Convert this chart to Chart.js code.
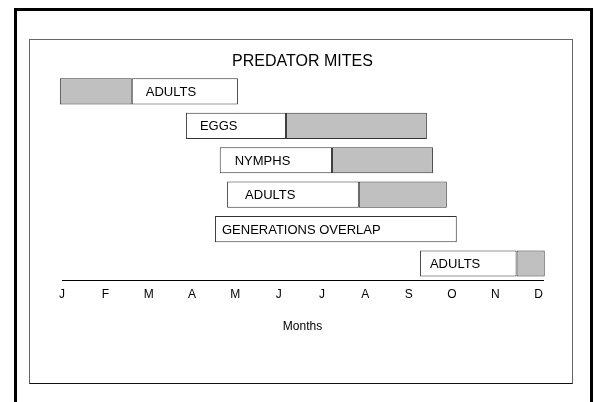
<!DOCTYPE html>
<html>
<head>
<meta charset="utf-8">
<script src="https://cdn.jsdelivr.net/npm/chart.js@4"></script>
<style>
  html, body { margin: 0; padding: 0; background: #fff; }
  body { width: 594px; height: 402px; position: relative; overflow: hidden; }
  #outer { position: absolute; left: 14px; top: 8px; width: 573px; height: 420px; border: 3px solid #000; box-sizing: content-box; }
  #inner { position: absolute; left: 29px; top: 39px; width: 542px; height: 343px; border: 1px solid #666; border-bottom-color: #111; }
  #wrap { position: absolute; left: 0; top: 0; width: 594px; height: 402px; }
</style>
</head>
<body>
<div id="outer"></div>
<div id="inner"></div>
<div id="wrap"><canvas id="c" width="594" height="402"></canvas></div>
<script>
// ---- data ----
const rows = ['Adults (spring)', 'Eggs', 'Nymphs', 'Adults', 'Generations overlap', 'Adults (winter)'];
const barLabels = ['ADULTS', 'EGGS', 'NYMPHS', 'ADULTS', 'GENERATIONS OVERLAP', 'ADULTS'];
// month units: 0 = J tick, 11 = D tick
const whiteSpans = [[1.61, 4.06], [2.86, 5.17], [3.64, 6.23], [3.81, 6.85], [3.53, 9.11], [8.26, 10.49]];
const graySpans  = [[-0.05, 1.61], [5.17, 8.42], [6.23, 8.56], [6.85, 8.88], null, [10.49, 11.14]];
const monthTicks = ['J', 'F', 'M', 'A', 'M', 'J', 'J', 'A', 'S', 'O', 'N', 'D'];
const labelPads = [14, 14, 15, 18, 7, 10];

const FONT = "'Liberation Sans', Arial, Helvetica, sans-serif";

const barTextPlugin = {
  id: 'barText',
  afterDatasetsDraw(chart) {
    const meta = chart.getDatasetMeta(0);
    const ctx = chart.ctx;
    ctx.save();
    ctx.font = '13px ' + FONT;
    ctx.fillStyle = '#000';
    ctx.textBaseline = 'middle';
    ctx.textAlign = 'left';
    meta.data.forEach((el, i) => {
      const left = Math.min(el.x, el.base);
      ctx.fillText(barLabels[i], left + labelPads[i], el.y + 1);
    });
    ctx.restore();
  }
};

new Chart(document.getElementById('c'), {
  type: 'bar',
  data: {
    labels: rows,
    datasets: [
      {
        label: 'stage',
        data: whiteSpans,
        backgroundColor: '#ffffff',
        borderColor: '#333333',
        borderWidth: 1,
        borderSkipped: false,
        grouped: false,
        clip: false,
        barPercentage: 0.76,
        categoryPercentage: 1
      },
      {
        label: 'overlap',
        data: graySpans,
        backgroundColor: '#c0c0c0',
        borderColor: '#333333',
        borderWidth: 1,
        borderSkipped: false,
        grouped: false,
        clip: false,
        barPercentage: 0.76,
        categoryPercentage: 1
      }
    ]
  },
  options: {
    indexAxis: 'y',
    responsive: false,
    animation: false,
    devicePixelRatio: 1,
    layout: { padding: { left: 62, right: 51, top: 0, bottom: 68.5 } },
    plugins: {
      legend: { display: false },
      tooltip: { enabled: false },
      title: {
        display: true,
        text: 'PREDATOR MITES',
        color: '#000',
        font: { family: FONT, size: 16, weight: 'normal' },
        padding: { top: 52, bottom: 3 }
      }
    },
    scales: {
      y: {
        type: 'category',
        display: false
      },
      x: {
        type: 'linear',
        min: 0,
        max: 11.1,
        grid: { display: false, drawTicks: false },
        border: { display: true, color: '#000', width: 1 },
        afterBuildTicks(axis) {
          axis.ticks = monthTicks.map((_, i) => ({ value: i }));
        },
        ticks: {
          color: '#000',
          padding: 7,
          autoSkip: false,
          maxRotation: 0,
          font: { family: FONT, size: 12 },
          callback: (v) => monthTicks[v]
        },
        title: {
          display: true,
          text: 'Months',
          color: '#000',
          font: { family: FONT, size: 12 },
          padding: { top: 10, bottom: 0 }
        }
      }
    }
  },
  plugins: [barTextPlugin]
});
</script>
</body>
</html>
